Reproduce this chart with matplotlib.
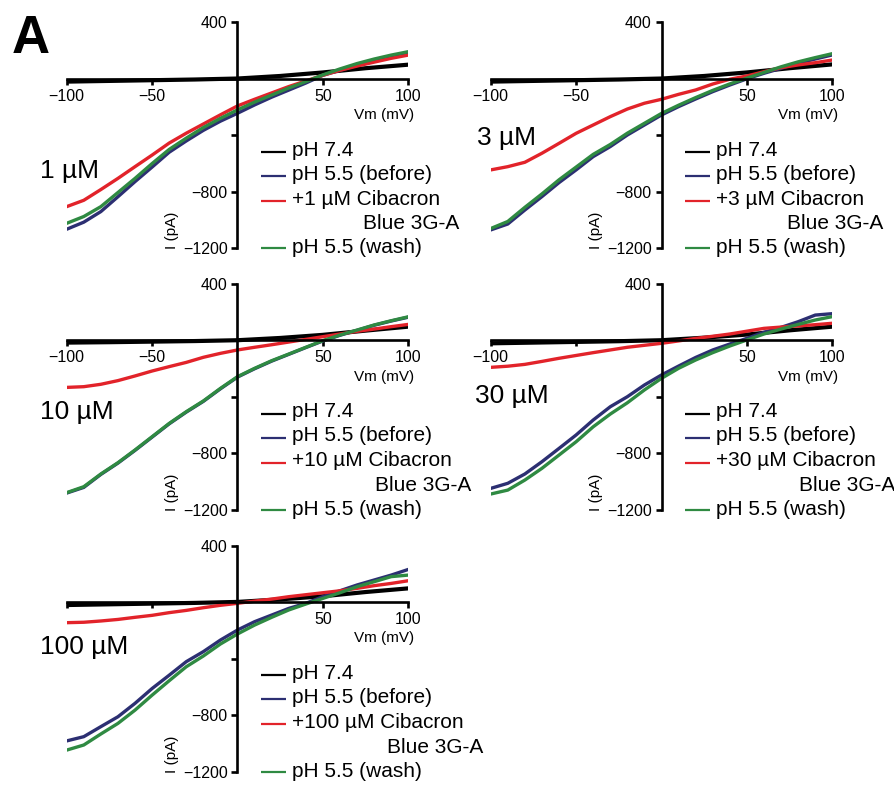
import matplotlib
matplotlib.use("Agg")
import matplotlib.pyplot as plt

plt.rcParams['font.family'] = ['Liberation Sans', 'DejaVu Sans']

# ---------------- data ----------------
vm = [-100, -90, -80, -70, -60, -50, -40, -30, -20, -10, 0,
      10, 20, 30, 40, 50, 60, 70, 80, 90, 100]
vm_black = [-100, -75, -50, -25, 0, 25, 50, 75, 100]

concentrations = ["1 µM", "3 µM", "10 µM", "30 µM", "100 µM"]
drug_labels = ["+1 µM Cibacron", "+3 µM Cibacron", "+10 µM Cibacron",
               "+30 µM Cibacron", "+100 µM Cibacron"]
legend_labels = ["pH 7.4", "pH 5.5 (before)", None, "pH 5.5 (wash)"]

black_1 = [-20, -15, -10, -5, 2, 20, 45, 75, 100]
blue_1 = [-1065, -1015, -940, -835, -728, -625, -520, -440, -365, -300, -244,
          -185, -130, -80, -30, 25, 60, 95, 125, 155, 180]
red_1 = [-905, -860, -784, -705, -622, -540, -455, -385, -320, -255, -192,
         -145, -100, -55, -15, 25, 60, 90, 118, 145, 168]
green_1 = [-1023, -975, -905, -805, -705, -600, -500, -420, -345, -280, -220,
           -165, -115, -65, -20, 28, 70, 108, 140, 168, 192]

black_2 = [-20, -15, -10, -5, 2, 20, 45, 75, 102]
blue_2 = [-1070, -1028, -929, -834, -735, -645, -551, -480, -398, -327, -256,
          -197, -143, -91, -44, 0, 39, 74, 110, 140, 169]
red_2 = [-645, -622, -591, -527, -457, -386, -327, -268, -214, -173, -145,
         -110, -79, -37, -3, 20, 50, 79, 98, 114, 133]
green_2 = [-1060, -1010, -910, -815, -715, -625, -535, -465, -385, -315, -245,
           -187, -133, -82, -36, 5, 45, 85, 120, 150, 178]

black_3 = [-15, -12, -8, -4, 2, 18, 40, 70, 98]
blue_3 = [-1080, -1040, -948, -868, -778, -684, -590, -507, -431, -342, -259,
          -200, -146, -98, -50, -3, 37, 72, 108, 138, 165]
red_3 = [-332, -327, -310, -284, -251, -216, -185, -155, -119, -91, -67,
         -48, -30, -11, 8, 27, 46, 65, 81, 98, 114]
green_3 = [-1077, -1035, -945, -865, -775, -681, -587, -504, -428, -339, -256,
           -197, -143, -96, -48, -1, 39, 74, 110, 140, 168]

black_4 = [-20, -15, -10, -5, 2, 20, 42, 72, 98]
blue_4 = [-1047, -1011, -945, -858, -764, -669, -563, -469, -398, -315, -244,
          -181, -120, -67, -25, 15, 58, 93, 133, 180, 190]
red_4 = [-190, -182, -169, -148, -126, -106, -86, -67, -48, -34, -20,
         -3, 15, 30, 46, 66, 86, 95, 103, 112, 122]
green_4 = [-1087, -1059, -988, -905, -811, -717, -611, -521, -441, -350, -268,
           -197, -138, -86, -39, 4, 46, 81, 114, 145, 169]

black_5 = [-20, -15, -10, -5, 2, 20, 42, 72, 98]
blue_5 = [-982, -952, -881, -811, -716, -611, -517, -421, -350, -268, -197,
          -138, -91, -44, -8, 39, 81, 122, 157, 192, 232]
red_5 = [-145, -142, -133, -122, -107, -93, -74, -58, -39, -22, -8,
         8, 22, 39, 53, 67, 81, 98, 117, 133, 152]
green_5 = [-1047, -1011, -933, -858, -764, -658, -556, -457, -381, -296, -225,
           -162, -107, -55, -13, 27, 67, 110, 145, 181, 192]

panels = [
    (black_1, blue_1, red_1, green_1),
    (black_2, blue_2, red_2, green_2),
    (black_3, blue_3, red_3, green_3),
    (black_4, blue_4, red_4, green_4),
    (black_5, blue_5, red_5, green_5),
]

x_ticks = [-100, -50, 50, 100]
x_tick_labels = [
    ["−100", "−50", "50", "100"],
    ["−100", "−50", "50", "100"],
    ["−100", "−50", "50", "100"],
    ["−100", "", "50", "100"],
    ["", "", "50", "100"],
]
y_ticks = [400, -400, -800, -1200]
y_tick_labels = ["400", "", "−800", "−1200"]

# ---------------- style ----------------
C_BLACK = "#000000"
C_BLUE = "#2c2f72"
C_RED = "#e2232a"
C_GREEN = "#2f8a42"

W, H = 895, 787
fig = plt.figure(figsize=(W / 100, H / 100), dpi=100)

ax_w, ax_h = 341.6, 226.0
boxes = [(66.7, 22.3), (490.7, 22.3), (66.7, 284.0), (490.7, 284.0), (66.7, 545.7)]
conc_pos = [(40, 178), (477, 145), (40, 419), (475, 403), (40, 654)]

renderer = fig.canvas.get_renderer()

for i, (left, top) in enumerate(boxes):
    ax = fig.add_axes([left / W, 1 - (top + ax_h) / H, ax_w / W, ax_h / H])
    ax.set_xlim(-100, 100)
    ax.set_ylim(-1200, 400)
    ax.patch.set_visible(False)
    for s in ["top", "right"]:
        ax.spines[s].set_visible(False)
    ax.spines["left"].set_position(("data", 0))
    ax.spines["bottom"].set_position(("data", 0))
    for s in ["left", "bottom"]:
        ax.spines[s].set_linewidth(1.9)
        ax.spines[s].set_zorder(6)
    ax.set_xticks(x_ticks)
    ax.set_xticklabels(x_tick_labels[i])
    ax.set_yticks(y_ticks)
    ax.set_yticklabels(y_tick_labels)
    ax.tick_params(axis="both", direction="out", length=4, width=1.9,
                   labelsize=11.5, pad=3)

    blk, blu, red, grn = panels[i]
    ax.plot(vm_black, blk, color=C_BLACK, lw=3.0, zorder=2, solid_capstyle="butt")
    ax.plot(vm, blu, color=C_BLUE, lw=2.4, zorder=3)
    ax.plot(vm, red, color=C_RED, lw=2.4, zorder=4)
    ax.plot(vm, grn, color=C_GREEN, lw=2.4, zorder=5)

    ax.text(103.5, -285, "Vm (mV)", ha="right", va="baseline", fontsize=11)
    ax.text(-38.5, -1074, "I (pA)", ha="center", va="center", rotation=90,
            fontsize=11)

    line_y = [-517, -687, -864, -1200]
    base_y = [-545, -715, -892, -1235]
    colors = [C_BLACK, C_BLUE, C_RED, C_GREEN]
    labels = [legend_labels[0], legend_labels[1], drug_labels[i], legend_labels[3]]
    for ly, by, c, lab in zip(line_y, base_y, colors, labels):
        ax.plot([13.7, 28.3], [ly, ly], color=c, lw=1.6, clip_on=False,
                solid_capstyle="butt")
        t = ax.text(32, by, lab, ha="left", va="baseline", fontsize=15,
                    clip_on=False)
        if lab == drug_labels[i]:
            drug_text = t
    bb = drug_text.get_window_extent(renderer)
    x_right_disp = bb.x1 + 19
    x_right_data = ax.transData.inverted().transform((x_right_disp, 0))[0]
    ax.text(x_right_data, -1065, "Blue 3G-A", ha="right", va="baseline",
            fontsize=15, clip_on=False)

    cx, cy = conc_pos[i]
    fig.text(cx / W, 1 - cy / H, concentrations[i], ha="left", va="baseline",
             fontsize=19)

fig.text(12 / W, 1 - 53 / H, "A", ha="left", va="baseline", fontsize=38,
         fontweight="bold")

fig.savefig("out.png", dpi=100)
